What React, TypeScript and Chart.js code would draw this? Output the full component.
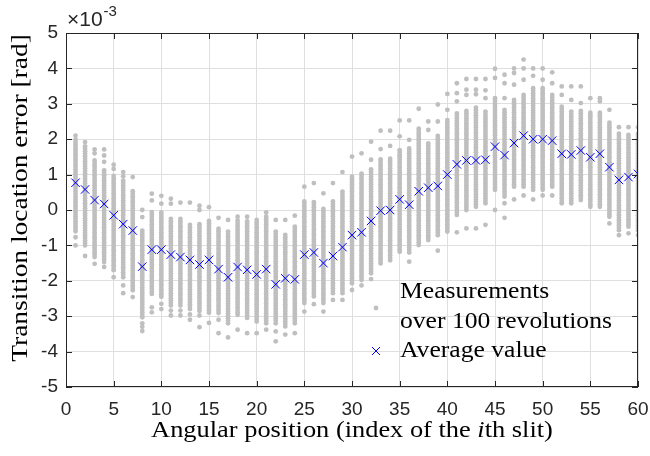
import React, { useEffect, useRef } from "react";
import { Chart, registerables } from "chart.js";

Chart.register(...registerables);

// Slit index (angular position)
const slits: number[] = Array.from({ length: 60 }, (_, i) => i + 1);

// Average value (x 1e-3 rad)
const averages: number[] = [
  0.77, 0.58, 0.28, 0.17, -0.15, -0.4, -0.58, -1.6, -1.12, -1.12,
  -1.26, -1.33, -1.41, -1.54, -1.41, -1.67, -1.9, -1.61, -1.69, -1.82,
  -1.67, -2.1, -1.93, -1.96, -1.26, -1.2, -1.5, -1.3, -1.05, -0.71,
  -0.63, -0.31, -0.02, 0.0, 0.3, 0.15, 0.53, 0.63, 0.68, 1.0,
  1.29, 1.4, 1.4, 1.42, 1.79, 1.55, 1.89, 2.1, 2.0, 2.0,
  1.96, 1.59, 1.57, 1.68, 1.49, 1.59, 1.21, 0.85, 0.93, 1.02,
];

// Measurements over 100 revolutions: dense core of each column (upper / lower edge)
const bandHigh: number[] = [
  2.0, 1.85, 1.45, 1.12, 1.0, 0.84, 0.46, -0.58, -0.06, -0.06,
  -0.2, -0.2, -0.39, -0.39, -0.25, -0.47, -0.56, -0.28, -0.28, -0.33,
  -0.19, -0.56, -0.66, -0.47, 0.28, 0.28, 0.09, 0.28, 0.56, 0.99,
  1.08, 1.18, 1.46, 1.46, 1.75, 1.75, 2.36, 1.93, 2.12, 2.59,
  2.74, 2.83, 2.92, 2.83, 3.2, 2.88, 3.16, 3.3, 3.44, 3.49,
  3.3, 2.97, 2.83, 2.83, 2.78, 2.78, 2.5, 2.17, 2.17, 2.17,
];
const bandLow: number[] = [
  -0.6, -1.0, -1.33, -1.47, -1.7, -1.9, -2.27, -3.03, -2.37, -2.45,
  -2.7, -2.7, -2.8, -2.85, -2.9, -2.91, -3.2, -2.96, -3.05, -3.15,
  -3.2, -3.2, -3.29, -3.2, -2.63, -2.44, -2.63, -2.35, -2.35, -2.07,
  -1.98, -1.79, -1.51, -1.42, -1.18, -1.2, -0.99, -0.85, -0.71, -0.61,
  -0.14, 0.0, 0.09, 0.19, 0.57, 0.38, 0.66, 0.66, 0.57, 0.57,
  0.66, 0.19, 0.19, 0.28, 0.09, 0.09, -0.19, -0.57, -0.47, -0.57,
];
// Isolated measurement dots outside the dense core
const outliers: number[][] = [
  [2.1, -0.77, -1.0], [1.92, -1.3], [1.71, 1.6, -1.52], [1.71, 1.54, 1.36, -1.61], [1.28, 1.16, -1.9],
  [1.07, 0.95, -2.13, -2.35], [0.93, 0.53, -2.46], [0.0, -0.2, -3.2, -3.3, -3.42], [0.46, 0.27, -2.75, -2.89], [0.4, 0.18, -2.65, -2.8],
  [0.32, 0.18, -2.84, -2.98], [0.21, -2.84, -2.98], [0.21, -2.95, -3.1], [0.12, 0.0, -2.98, -3.31], [0.08, -3.19],
  [-0.22, -3.1, -3.48], [-0.28, -3.6], [-0.19, -3.38], [-0.19, -3.48], [-0.28, -3.48],
  [-0.07, -3.38], [-0.28, -3.43, -3.71], [-0.28, -3.52], [-0.16, -3.48], [0.66, -2.87],
  [0.76, -2.66], [0.47, -2.87], [0.76, -2.54], [1.07, -2.54], [1.51, -2.26],
  [1.6, -2.13], [1.93, 1.42, -1.95], [2.24, 1.72], [2.24, 1.81], [2.53, 2.08],
  [2.53, 1.98, -1.46], [2.86], [2.5, 2.26], [2.98, 2.5, -1.15], [3.28, 2.83],
  [3.58, 3.3, 3.07, -0.63], [3.7, 3.4, 3.25, -0.52], [3.7, 3.4, 3.27, -0.52], [3.7, 3.38, 3.16, -0.42], [3.99, 3.73, 0.0],
  [3.82, 3.58, 3.16, 0.19, -0.22], [4.0, 3.87, 3.54, 0.3], [4.25, 4.0, 3.68, 0.41], [4.0, 3.79, 0.3], [4.0, 3.68, 0.41],
  [3.89, 3.58, 0.41], [3.49, 3.25], [3.49, 3.11], [3.49, 3.02], [3.16],
  [3.16, 3.07], [2.83, -0.38], [2.34, -0.71], [2.34, -0.66], [2.34, -0.71],
];

const xTicks: number[] = [0, 5, 10, 15, 20, 25, 30, 35, 40, 45, 50, 55, 60];
const yTicks: number[] = [-5, -4, -3, -2, -1, 0, 1, 2, 3, 4, 5];

const xTitle = "Angular position (index of the ";
const xTitleItalic = "i";
const xTitleEnd = "th slit)";
const yTitle = "Transition location error [rad]";
const legendLabels = ["Measurements", "over 100 revolutions", "Average value"];

const DOT_COLOR = "#bfbfbf";
const BLUE = "#0000ff";
const AXIS = "#262626";
const SERIF = "'Liberation Serif', 'Times New Roman', serif";
const SANS = "'Liberation Sans', Arial, Helvetica, sans-serif";

function buildMeasurements() {
  const pts: { x: number; y: number }[] = [];
  const step = 0.07;
  slits.forEach((s, i) => {
    for (let v = bandLow[i]; v <= bandHigh[i] + 1e-9; v += step) {
      pts.push({ x: s, y: v });
    }
    outliers[i].forEach((v) => pts.push({ x: s, y: v }));
  });
  return pts;
}

const decorPlugin = {
  id: "matlabDecor",
  afterDraw(chart: any) {
    const { ctx, chartArea: a, scales } = chart;
    const xs = scales.x;
    const ys = scales.y;
    ctx.save();
    // box
    ctx.strokeStyle = AXIS;
    ctx.lineWidth = 1;
    ctx.strokeRect(a.left + 0.5, a.top + 0.5, a.right - a.left - 1, a.bottom - a.top - 1);
    // inward ticks
    const tl = 6;
    ctx.beginPath();
    xTicks.forEach((t) => {
      const px = Math.round(xs.getPixelForValue(t)) + 0.5;
      ctx.moveTo(px, a.bottom);
      ctx.lineTo(px, a.bottom - tl);
      ctx.moveTo(px, a.top);
      ctx.lineTo(px, a.top + tl);
    });
    yTicks.forEach((t) => {
      const py = Math.round(ys.getPixelForValue(t)) + 0.5;
      ctx.moveTo(a.left, py);
      ctx.lineTo(a.left + tl, py);
      ctx.moveTo(a.right, py);
      ctx.lineTo(a.right - tl, py);
    });
    ctx.stroke();

    // exponent label
    ctx.fillStyle = AXIS;
    ctx.textBaseline = "alphabetic";
    ctx.textAlign = "left";
    ctx.font = `21px ${SANS}`;
    ctx.fillText("\u00d710", a.left + 1, a.top - 7);
    const w = ctx.measureText("\u00d710").width;
    ctx.font = `15px ${SANS}`;
    ctx.fillText("-3", a.left + 1 + w + 1, a.top - 17);

    // x title
    ctx.fillStyle = "#000";
    const sx = 1.1;
    ctx.font = `24px ${SERIF}`;
    const w1 = ctx.measureText(xTitle).width;
    ctx.font = `italic 24px ${SERIF}`;
    const w2 = ctx.measureText(xTitleItalic).width;
    ctx.font = `24px ${SERIF}`;
    const w3 = ctx.measureText(xTitleEnd).width;
    const total = (w1 + w2 + w3) * sx;
    const cx = (a.left + a.right) / 2;
    ctx.save();
    ctx.translate(cx - total / 2, 437);
    ctx.scale(sx, 1);
    ctx.font = `24px ${SERIF}`;
    ctx.fillText(xTitle, 0, 0);
    ctx.font = `italic 24px ${SERIF}`;
    ctx.fillText(xTitleItalic, w1, 0);
    ctx.font = `24px ${SERIF}`;
    ctx.fillText(xTitleEnd, w1 + w2, 0);
    ctx.restore();

    // y title
    ctx.save();
    ctx.translate(27, 198);
    ctx.rotate(-Math.PI / 2);
    ctx.scale(sx * 1.04, 1);
    ctx.font = `24px ${SERIF}`;
    ctx.textAlign = "center";
    ctx.fillText(yTitle, 0, 0);
    ctx.restore();

    // legend
    ctx.font = `24px ${SERIF}`;
    ctx.textAlign = "left";
    ctx.save();
    ctx.translate(400, 298);
    ctx.scale(sx * 0.97, 1);
    ctx.fillText(legendLabels[0], 0, 0);
    ctx.fillText(legendLabels[1], 0, 30);
    ctx.fillText(legendLabels[2], 0, 59);
    ctx.restore();
    ctx.fillStyle = DOT_COLOR;
    ctx.beginPath();
    ctx.arc(376, 308, 2.4, 0, Math.PI * 2);
    ctx.fill();
    ctx.strokeStyle = BLUE;
    ctx.lineWidth = 1;
    ctx.beginPath();
    const r = 4;
    ctx.moveTo(376 - r, 351 - r);
    ctx.lineTo(376 + r, 351 + r);
    ctx.moveTo(376 + r, 351 - r);
    ctx.lineTo(376 - r, 351 + r);
    ctx.stroke();
    ctx.restore();
  },
};

export default function App() {
  const ref = useRef<HTMLCanvasElement | null>(null);
  useEffect(() => {
    if (!ref.current) return;
    const chart = new Chart(ref.current, {
      type: "scatter",
      data: {
        datasets: [
          {
            label: "Average value",
            data: slits.map((s, i) => ({ x: s, y: averages[i] })),
            pointStyle: "crossRot",
            pointRadius: 6,
            pointBorderColor: BLUE,
            pointBackgroundColor: BLUE,
            pointBorderWidth: 1,
            order: 0,
          },
          {
            label: "Measurements over 100 revolutions",
            data: buildMeasurements(),
            pointStyle: "circle",
            pointRadius: 2.4,
            pointBorderWidth: 0,
            pointBackgroundColor: DOT_COLOR,
            pointBorderColor: DOT_COLOR,
            order: 1,
          },
        ],
      },
      options: {
        responsive: false,
        animation: false,
        devicePixelRatio: 1,
        layout: { padding: { top: 33, right: 12, left: 0, bottom: 0 } },
        plugins: { legend: { display: false }, tooltip: { enabled: false } },
        events: [],
        scales: {
          x: {
            type: "linear",
            min: 0,
            max: 60,
            afterFit: (s: any) => { s.height = 69; s.paddingLeft = 0; s.paddingRight = 0; },
            afterBuildTicks: (s: any) => { s.ticks = xTicks.map((v) => ({ value: v })); },
            ticks: {
              color: AXIS,
              font: { family: SANS, size: 19 },
              padding: 11,
              maxRotation: 0,
              callback: (v: any) => String(v),
            },
            grid: { color: "#dfdfdf", lineWidth: 1, drawTicks: false },
            border: { display: false },
          },
          y: {
            type: "linear",
            min: -5,
            max: 5,
            afterFit: (s: any) => { s.width = 66; s.paddingTop = 0; s.paddingBottom = 0; },
            afterBuildTicks: (s: any) => { s.ticks = yTicks.map((v) => ({ value: v })); },
            ticks: {
              color: AXIS,
              font: { family: SANS, size: 19 },
              padding: 8,
              callback: (v: any) => String(v),
            },
            grid: { color: "#dfdfdf", lineWidth: 1, drawTicks: false },
            border: { display: false },
          },
        },
      },
      plugins: [decorPlugin],
    } as any);
    return () => chart.destroy();
  }, []);
  return (
    <div style={{ position: "fixed", left: 0, top: 0, width: 650, height: 456, background: "#fff" }}>
      <canvas ref={ref} width={650} height={456} style={{ display: "block" }} />
    </div>
  );
}
